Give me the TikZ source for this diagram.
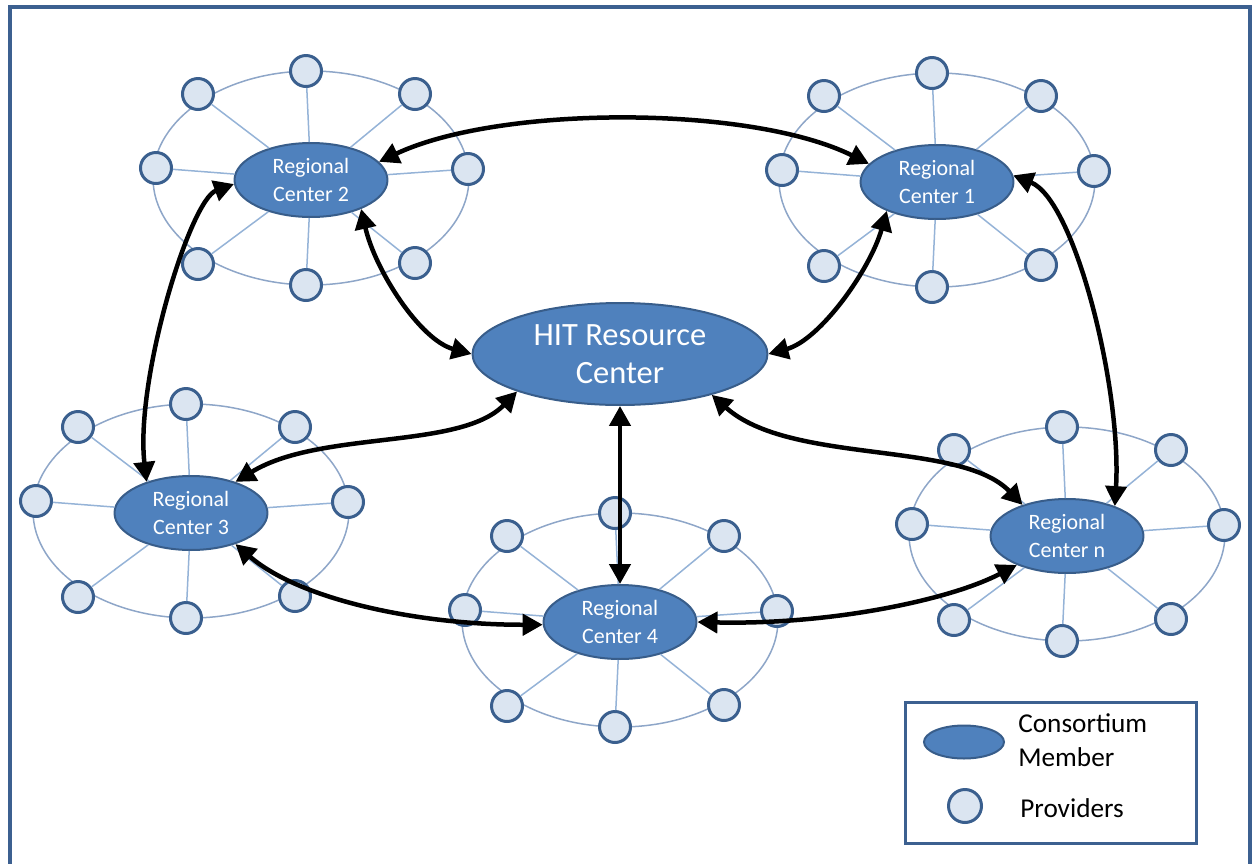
\documentclass[tikz,border=0pt]{standalone}
\usepackage{fontspec}
\setmainfont{Carlito}
\usetikzlibrary{shapes.geometric,arrows.meta}
\definecolor{memberfill}{HTML}{4F81BD}
\definecolor{memberline}{HTML}{385D8A}
\definecolor{providerfill}{HTML}{DBE5F1}
\definecolor{providerline}{HTML}{3A5F8E}
\definecolor{ringline}{HTML}{8EA6C8}
\definecolor{spokeline}{HTML}{95B3D7}
\definecolor{frameline}{HTML}{3C6090}
\tikzset{
  member/.style = {ellipse, draw=memberline, fill=memberfill, line width=0.04cm,
    text=white, align=center, inner sep=0pt, minimum width=3.06cm, minimum height=1.48cm,
    font=\fontsize{12.5}{15.9}\selectfont},
  hub/.style = {member, minimum width=5.9cm, minimum height=2.04cm,
    font=\fontsize{18.5}{21.6}\selectfont},
  provider/.style = {circle, draw=providerline, fill=providerfill, line width=0.06cm,
    minimum size=0.62cm, inner sep=0pt},
  ringpath/.style = {draw=ringline, line width=0.03cm},
  spokepath/.style = {draw=spokeline, line width=0.03cm},
  linkarrow/.style = {{Triangle[length=0.4cm,width=0.42cm]}-{Triangle[length=0.4cm,width=0.42cm]},
    line width=0.09cm, black},
  outerframe/.style = {draw=frameline, line width=0.08cm},
  legendbox/.style = {rectangle, draw=frameline, fill=white, line width=0.06cm,
    minimum width=5.84cm, minimum height=2.82cm},
  legendtext/.style = {anchor=west, inner sep=0pt, align=left,
    font=\fontsize{15.5}{19.3}\selectfont}
}
\newcommand{\regioncluster}[4]{%
  % ring
  \draw[ringpath] (#2,#3-2) ellipse [x radius=158, y radius=107];
  % center and providers
  \node[member] (#1) at (#2,#3) {#4};
  \foreach \dx/\dy [count=\i] in {-5/-109,104/-86,157/-11,104/83,-5/105,-113/84,-155/-12,-113/-86} {
    \node[provider] (#1-p\i) at (#2+\dx,#3+\dy) {};
    \draw[spokepath] (#1) -- (#1-p\i);
  }
}

\begin{document}
\begin{tikzpicture}[x=0.02cm, y=-0.02cm]
  \useasboundingbox (0,0) rectangle (1252,863);
  % frame
  \draw[outerframe] (10,7) rectangle (1250,900);
  % hub
  \node[hub] (hit) at (620,354) {HIT Resource\\Center};
  % regional centers
  \regioncluster{rc1}{937}{182}{Regional\\Center 1}
  \regioncluster{rc2}{311}{180}{Regional\\Center 2}
  \regioncluster{rc3}{191}{513}{Regional\\Center 3}
  \regioncluster{rc4}{620}{622}{Regional\\Center 4}
  \regioncluster{rcn}{1067}{536}{Regional\\Center n}
  % links between centers
  \draw[linkarrow] (rc2.15) .. controls (500,105) and (750,105) .. (rc1.165);
  \draw[linkarrow] (rc2.-30) .. controls (375,270) and (420,340) .. (hit.180);
  \draw[linkarrow] (rc1.210) .. controls (870,270) and (820,340) .. (hit.0);
  \draw[linkarrow] (rc2.183) .. controls (190,200) and (135,380) .. (rc3.145);
  \draw[linkarrow] (rc1.5) .. controls (1075,200) and (1122,390) .. (rcn.32);
  \draw[linkarrow] (hit.200) .. controls (460,450) and (320,430) .. (rc3.35);
  \draw[linkarrow] (hit.south) -- (rc4.north);
  \draw[linkarrow] (hit.-24) .. controls (790,465) and (960,440) .. (rcn.145);
  \draw[linkarrow] (rc3.-35) .. controls (300,600) and (420,625) .. (rc4.182);
  \draw[linkarrow] (rc4.0) .. controls (830,625) and (950,600) .. (rcn.-150);
  % legend
  \node[legendbox] (legend) at (1051,773) {};
  \node[member, minimum width=1.6cm, minimum height=0.66cm] (legend-member) at (964,742) {};
  \node[legendtext] (legend-member-text) at (1018,740) {Consortium\\Member};
  \node[provider, minimum size=0.66cm] (legend-provider) at (965,806) {};
  \node[legendtext] (legend-provider-text) at (1020,808) {Providers};
\end{tikzpicture}
\end{document}
